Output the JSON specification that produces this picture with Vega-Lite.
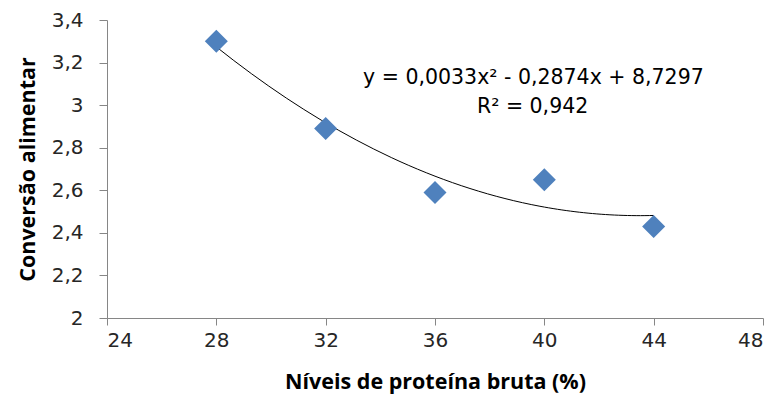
{
  "$schema": "https://vega.github.io/schema/vega-lite/v6.json",
  "width": 656,
  "height": 298,
  "autosize": {"type": "none"},
  "padding": {"left": 107, "top": 20, "right": 15, "bottom": 94},
  "background": "white",
  "config": {
    "view": {"stroke": null},
    "axis": {
      "grid": false,
      "domainColor": "#868686",
      "tickColor": "#868686",
      "labelFont": "DejaVu Sans",
      "labelFontSize": 20,
      "labelColor": "#262626",
      "titleFont": "Open Sans",
      "titleFontSize": 21.5,
      "titleFontWeight": "bold",
      "titleColor": "#000000"
    }
  },
  "data": {
    "values": [
      {"proteina": 28, "conversao": 3.30},
      {"proteina": 32, "conversao": 2.89},
      {"proteina": 36, "conversao": 2.59},
      {"proteina": 40, "conversao": 2.65},
      {"proteina": 44, "conversao": 2.43}
    ]
  },
  "layer": [
    {
      "transform": [
        {"regression": "conversao", "on": "proteina", "method": "poly", "order": 2, "extent": [28, 44]}
      ],
      "mark": {"type": "line", "color": "#000000", "strokeWidth": 1},
      "encoding": {
        "x": {
          "field": "proteina", "type": "quantitative",
          "scale": {"domain": [24, 48], "nice": false, "zero": false},
          "axis": {
            "title": "Níveis de proteína bruta (%)",
            "values": [24, 28, 32, 36, 40, 44, 48],
            "tickSize": 7,
            "labelPadding": 5,
            "titlePadding": 21
          }
        },
        "y": {
          "field": "conversao", "type": "quantitative",
          "scale": {"domain": [2, 3.4], "nice": false, "zero": false},
          "axis": {
            "title": "Conversão alimentar",
            "values": [2, 2.2, 2.4, 2.6, 2.8, 3, 3.2, 3.4],
            "labelExpr": "replace(format(datum.value, '.1~f'), '.', ',')",
            "tickSize": 8,
            "labelPadding": 16,
            "titlePadding": 12
          }
        }
      }
    },
    {
      "mark": {"type": "point", "shape": "diamond", "filled": true, "size": 530, "color": "#4F81BD", "opacity": 1},
      "encoding": {
        "x": {"field": "proteina", "type": "quantitative"},
        "y": {"field": "conversao", "type": "quantitative"}
      }
    },
    {
      "data": {"values": [{"equacao": "y = 0,0033x² - 0,2874x + 8,7297", "r2": "R² = 0,942"}]},
      "layer": [
        {
          "mark": {"type": "text", "fontSize": 20.5, "font": "DejaVu Sans", "color": "#000000", "align": "center", "baseline": "middle"},
          "encoding": {
            "x": {"datum": 39.6, "type": "quantitative"},
            "y": {"datum": 3.127, "type": "quantitative"},
            "text": {"field": "equacao"}
          }
        },
        {
          "mark": {"type": "text", "fontSize": 20.5, "font": "DejaVu Sans", "color": "#000000", "align": "center", "baseline": "middle"},
          "encoding": {
            "x": {"datum": 39.57, "type": "quantitative"},
            "y": {"datum": 2.991, "type": "quantitative"},
            "text": {"field": "r2"}
          }
        }
      ]
    }
  ]
}
